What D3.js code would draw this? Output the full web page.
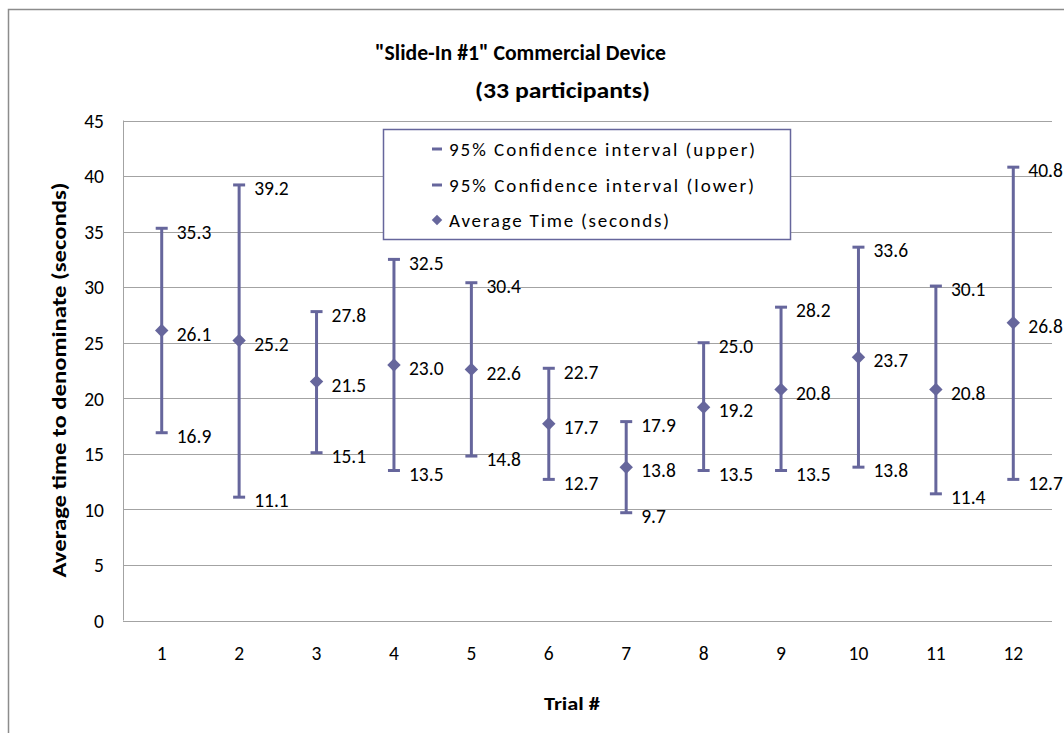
<!DOCTYPE html>
<html>
<head>
<meta charset="utf-8">
<script src="https://cdn.jsdelivr.net/npm/d3@7"></script>
<style>
  html, body { margin: 0; padding: 0; background: #fff; }
  svg { display: block; }
  text { font-family: Carlito, Lato, "Open Sans", sans-serif; fill: #000; }
</style>
</head>
<body>
<svg id="chart" width="1064" height="733"></svg>
<script>
const trials = ["1","2","3","4","5","6","7","8","9","10","11","12"];
const upper = [35.3, 39.2, 27.8, 32.5, 30.4, 22.7, 17.9, 25.0, 28.2, 33.6, 30.1, 40.8];
const avg   = [26.1, 25.2, 21.5, 23.0, 22.6, 17.7, 13.8, 19.2, 20.8, 23.7, 20.8, 26.8];
const lower = [16.9, 11.1, 15.1, 13.5, 14.8, 12.7, 9.7, 13.5, 13.5, 13.8, 11.4, 12.7];
const yTicks = [0, 5, 10, 15, 20, 25, 30, 35, 40, 45];
const legendLabels = ["95% Confidence interval (upper)", "95% Confidence interval (lower)", "Average Time (seconds)"];
const titleText = "\"Slide-In #1\" Commercial Device";
const subtitleText = "(33 participants)";
const xTitle = "Trial #";
const yTitle = "Average time to denominate (seconds)";

const color = "#66669c";
const gridColor = "#a3a3a3";

const svg = d3.select("#chart");
const plot = {left: 123, right: 1052, top: 120.5, bottom: 620.5};

const x = d3.scaleBand().domain(trials).range([plot.left, plot.right]);
const y = d3.scaleLinear().domain([0, 45]).range([plot.bottom, plot.top]);
const cx = d => x(d) + x.bandwidth() / 2;

// chart area border
svg.append("rect").attr("x", 8.5).attr("y", 9.5).attr("width", 1100).attr("height", 800)
  .attr("fill", "none").attr("stroke", "#8c8c8c").attr("stroke-width", 1.5);

// gridlines
svg.append("g").selectAll("line").data(yTicks).join("line")
  .attr("x1", plot.left).attr("x2", plot.right)
  .attr("y1", d => Math.round(y(d)) + 0.5).attr("y2", d => Math.round(y(d)) + 0.5)
  .attr("stroke", gridColor).attr("stroke-width", 1);
// left axis line
svg.append("line").attr("x1", plot.left + 0.5).attr("x2", plot.left + 0.5)
  .attr("y1", plot.top).attr("y2", plot.bottom).attr("stroke", gridColor);

// y axis labels
const yAxis = d3.axisLeft(y).tickValues(yTicks).tickSize(0).tickPadding(19);
const gy = svg.append("g").attr("transform", `translate(${plot.left},0)`).call(yAxis);
gy.select(".domain").remove();
gy.selectAll("text").style("font-size", "19.5px").attr("font-family", null).attr("dy", "0.35em");

// x axis labels
const xAxis = d3.axisBottom(x).tickSize(0).tickPadding(26);
const gx = svg.append("g").attr("transform", `translate(0,${plot.bottom})`).call(xAxis);
gx.select(".domain").remove();
gx.selectAll("text").style("font-size", "19.5px").attr("font-family", null);

// error bars
const bars = svg.append("g");
bars.selectAll("line.v").data(trials).join("line").attr("class", "v")
  .attr("x1", d => cx(d)).attr("x2", d => cx(d))
  .attr("y1", (d, i) => y(upper[i])).attr("y2", (d, i) => y(lower[i]))
  .attr("stroke", color).attr("stroke-width", 3);
[upper, lower].forEach(arr => {
  bars.append("g").selectAll("line").data(trials).join("line")
    .attr("x1", d => cx(d) - 6).attr("x2", d => cx(d) + 6)
    .attr("y1", (d, i) => y(arr[i])).attr("y2", (d, i) => y(arr[i]))
    .attr("stroke", color).attr("stroke-width", 3);
});
// average diamonds
const diamond = d3.symbol().type(d3.symbolDiamond2).size(115);
bars.append("g").selectAll("path").data(trials).join("path")
  .attr("d", diamond)
  .attr("transform", (d, i) => `translate(${cx(d)},${y(avg[i])})`)
  .attr("fill", color);

// data labels
const labels = svg.append("g").style("font-size", "19.5px");
[upper, avg, lower].forEach(arr => {
  labels.append("g").selectAll("text").data(trials).join("text")
    .attr("x", d => cx(d) + 15)
    .attr("y", (d, i) => y(arr[i]) + 3.5)
    .attr("dy", "0.35em")
    .text((d, i) => arr[i].toFixed(1));
});

// legend
const lg = svg.append("g");
lg.append("rect").attr("x", 383.5).attr("y", 129.5).attr("width", 407).attr("height", 110)
  .attr("fill", "#fff").attr("stroke", color).attr("stroke-width", 1.5);
const rowsY = [149, 185, 220];
const legendWidths = [306, 305, 220];
legendLabels.forEach((t, i) => {
  if (i < 2) {
    lg.append("line").attr("x1", 432).attr("x2", 442).attr("y1", rowsY[i]).attr("y2", rowsY[i])
      .attr("stroke", color).attr("stroke-width", 3);
  } else {
    lg.append("path").attr("d", d3.symbol().type(d3.symbolDiamond2).size(70))
      .attr("transform", `translate(437,${rowsY[i]})`).attr("fill", color);
  }
  lg.append("text").attr("x", 449).attr("y", rowsY[i]).attr("dy", "0.35em")
    .attr("textLength", legendWidths[i]).attr("lengthAdjust", "spacing")
    .style("font-size", "19px").text(t);
});

// titles
svg.append("text").attr("x", 375).attr("y", 52).attr("dy", "0.35em")
  .attr("textLength", 291).attr("lengthAdjust", "spacingAndGlyphs")
  .style("font-size", "21.5px").style("font-weight", "bold").text(titleText);
svg.append("text").attr("x", 475).attr("y", 90).attr("dy", "0.35em")
  .attr("textLength", 175).attr("lengthAdjust", "spacingAndGlyphs")
  .style("font-size", "21.5px").style("font-weight", "bold").text(subtitleText);
svg.append("text").attr("x", 544).attr("y", 703).attr("dy", "0.35em")
  .attr("textLength", 56).attr("lengthAdjust", "spacingAndGlyphs")
  .style("font-size", "19px").style("font-weight", "bold").text(xTitle);
svg.append("text").attr("transform", "translate(59,380) rotate(-90)").attr("dy", "0.35em")
  .attr("x", -197.5)
  .attr("textLength", 395).attr("lengthAdjust", "spacingAndGlyphs")
  .style("font-size", "20px").style("font-weight", "bold").text(yTitle);
</script>
</body>
</html>
